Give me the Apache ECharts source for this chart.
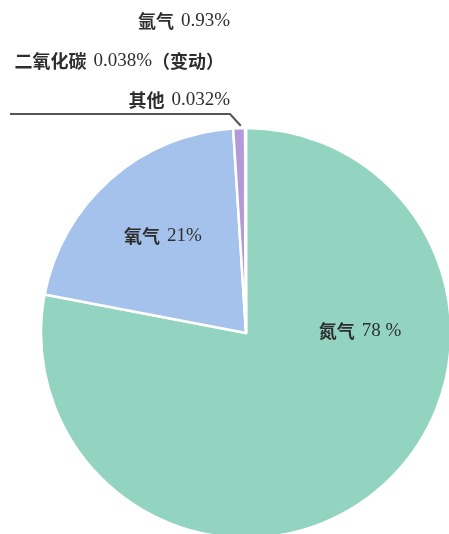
<!DOCTYPE html>
<html>
<head>
<meta charset="utf-8">
<script src="https://cdn.jsdelivr.net/npm/echarts@6/dist/echarts.min.js"></script>
<style>
  html, body { margin: 0; padding: 0; background: #fff; }
  #chart { width: 449px; height: 534px; }
</style>
</head>
<body>
<div id="chart"></div>
<script>
// Composition of dry air (volume share, %)
const gases = ['氮气', '氧气', '氩气', '二氧化碳', '其他'];
const shares = [78, 21, 0.93, 0.038, 0.032];
const shareUnits = [' %', '%', '%', '%', '%'];
const notes = ['', '', '', '（变动）', ''];

const sliceColors = ['#93d4c0', '#a5c2ec', '#b39ad8', '#c7b3e3', '#c7b3e3'];

// Label anchors: the two big slices are labelled inside, the small ones in a right-aligned column above the pie
const labelSpots = [
  { x: 360, y: 331, align: 'center' },
  { x: 163, y: 236, align: 'center' },
  { x: 230, y: 21, align: 'right' },
  { x: 224, y: 61, align: 'right' },
  { x: 230, y: 100, align: 'right' }
];
const insideLabel = [true, true, false, false, false];
const guideLineOn = [false, false, false, false, true];

const textColor = '#2e2e2e';

const chart = echarts.init(document.getElementById('chart'), null, { renderer: 'canvas' });

const pieData = gases.map((name, i) => ({
  name: name,
  value: shares[i],
  itemStyle: { color: sliceColors[i] },
  label: { position: insideLabel[i] ? 'inside' : 'outside' },
  labelLine: { show: guideLineOn[i] }
}));

chart.setOption({
  animation: false,
  backgroundColor: '#ffffff',
  series: [{
    type: 'pie',
    silent: true,
    center: [246, 333],
    radius: 205,
    startAngle: 90,
    clockwise: true,
    avoidLabelOverlap: false,
    itemStyle: { borderColor: '#ffffff', borderWidth: 2.5 },
    label: {
      show: true,
      color: textColor,
      formatter: function (p) {
        const i = p.dataIndex;
        let s = '{cn|' + gases[i] + '}{gap|}{num|' + shares[i] + shareUnits[i] + '}';
        if (notes[i]) s += '{cn|' + notes[i] + '}';
        return s;
      },
      rich: {
        cn: {
          fontFamily: '"Noto Sans CJK SC"',
          fontWeight: 'bold',
          fontSize: 18,
          color: textColor
        },
        gap: { width: 7 },
        num: {
          fontFamily: '"Liberation Serif"',
          fontSize: 19,
          color: textColor
        }
      }
    },
    labelLine: {
      show: false,
      smooth: false,
      lineStyle: { color: '#555555', width: 2 }
    },
    labelLayout: function (p) {
      const spot = labelSpots[p.dataIndex];
      const out = { x: spot.x, y: spot.y, align: spot.align, verticalAlign: 'middle' };
      if (guideLineOn[p.dataIndex]) {
        // leader: from the tip of the slice, up to the label, then a rule running left beneath it
        const tipX = p.rect.x + p.rect.width / 2 - 5;
        const tipY = p.rect.y - 1;
        const ruleY = spot.y + 14;
        out.labelLinePoints = [[tipX, tipY], [spot.x, ruleY], [10, ruleY]];
      }
      return out;
    },
    data: pieData
  }]
});
</script>
</body>
</html>
